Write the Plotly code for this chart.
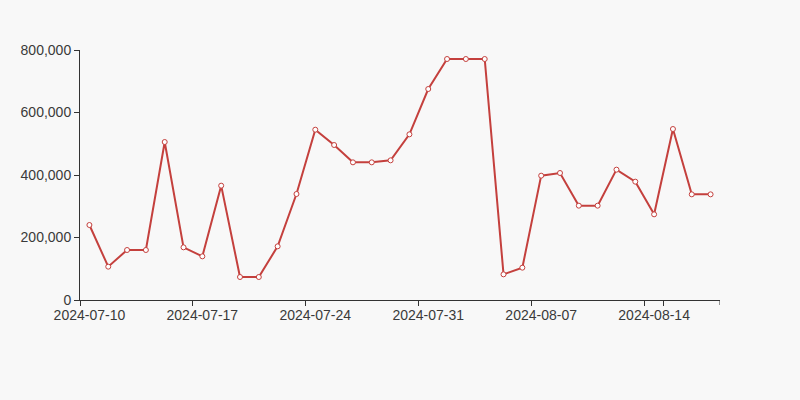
import plotly.graph_objects as go

dates = [
    "2024-07-10", "2024-07-11", "2024-07-12", "2024-07-13", "2024-07-15", "2024-07-16",
    "2024-07-17", "2024-07-18", "2024-07-19", "2024-07-20", "2024-07-22", "2024-07-23",
    "2024-07-24", "2024-07-25", "2024-07-26", "2024-07-27", "2024-07-29", "2024-07-30",
    "2024-07-31", "2024-08-01", "2024-08-02", "2024-08-03", "2024-08-05", "2024-08-06",
    "2024-08-07", "2024-08-08", "2024-08-09", "2024-08-10", "2024-08-12", "2024-08-13",
    "2024-08-14", "2024-08-15", "2024-08-16", "2024-08-17",
]
values = [
    240000, 106700, 160000, 160000, 505600, 168500,
    139700, 365900, 73600, 73600, 171700, 339200,
    545000, 496000, 440500, 440500, 446900, 530100,
    675200, 771200, 771200, 771200, 82100, 103500,
    397900, 406400, 301900, 301900, 417100, 378700,
    274100, 547200, 338100, 338100,
]
tick_labels = ["2024-07-10", "2024-07-17", "2024-07-24", "2024-07-31", "2024-08-07", "2024-08-14"]
y_ticks = [0, 200000, 400000, 600000, 800000]

LINE = "#c4403d"
AX = "#333333"
TXT = "#3a3a3a"

fig = go.Figure(
    go.Scatter(
        x=dates, y=values, mode="lines+markers",
        line=dict(color=LINE, width=2),
        marker=dict(symbol="circle", size=5, color="#ffffff", line=dict(color=LINE, width=1)),
        hoverinfo="x+y",
    )
)

fig.update_layout(
    width=800, height=400,
    margin=dict(l=80, r=80, t=50, b=100),
    paper_bgcolor="#f8f8f8", plot_bgcolor="#f8f8f8",
    font=dict(family="Liberation Sans, Arial, sans-serif", size=14, color=TXT),
    showlegend=False,
)
fig.update_xaxes(
    type="category", range=[-0.5, len(dates) - 0.5],
    tickmode="array", tickvals=tick_labels, ticktext=tick_labels,
    tickson="boundaries", tickangle=0, automargin=False,
    ticklabelstandoff=2,
    showgrid=False, zeroline=False,
    showline=True, linecolor=AX, linewidth=1,
    ticks="outside", ticklen=5, tickcolor=AX, tickwidth=1,
    tickfont=dict(size=14, color=TXT),
)
fig.update_yaxes(
    range=[0, 800000], tickmode="array", tickvals=y_ticks,
    tickformat=",d", automargin=False,
    showgrid=False, zeroline=False,
    showline=True, linecolor=AX, linewidth=1,
    ticks="outside", ticklen=5, tickcolor=AX, tickwidth=1,
    tickfont=dict(size=14, color=TXT),
)
# closing tick at the right end of the category axis
fig.add_shape(
    type="line", xref="x", yref="paper",
    x0=len(dates) - 0.5, x1=len(dates) - 0.5,
    ysizemode="pixel", yanchor=0, y0=0, y1=-5,
    line=dict(color=AX, width=1),
)

fig.write_html(
    "out.html",
    config={"displayModeBar": False},
    post_script="document.body.style.margin='0';document.body.style.overflow='hidden';",
)
